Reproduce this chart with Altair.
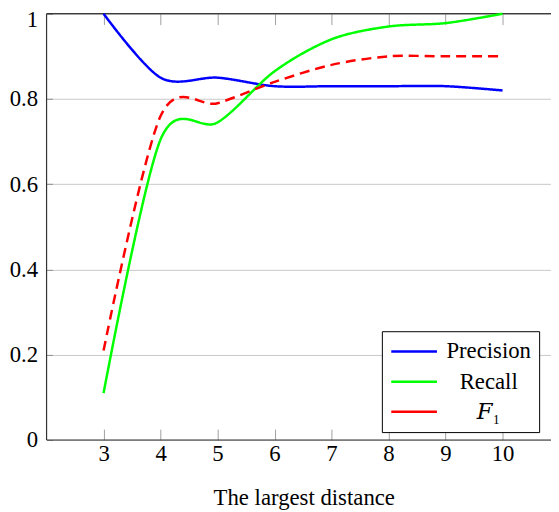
import altair as alt
import pandas as pd

# ---- data ----
distance = [3, 4, 5, 6, 7, 8, 9, 10]
precision = [1.0, 0.85, 0.85, 0.83, 0.83, 0.83, 0.83, 0.82]
recall = [0.11, 0.705, 0.745, 0.865, 0.94, 0.97, 0.978, 1.0]
f1 = [0.21, 0.76, 0.79, 0.84, 0.88, 0.90, 0.90, 0.90]

series_names = ["Precision", "Recall", "𝐹₁"]
series_colors = ["#0000ff", "#00ff00", "#ff0000"]
series_dash = [[1, 0], [1, 0], [10, 6]]

x_ticks = [3, 4, 5, 6, 7, 8, 9, 10]
y_ticks = [0, 0.2, 0.4, 0.6, 0.8, 1]
x_domain = [2, 10.85]
y_domain = [0, 1]

rows = []
for name, vals in zip(series_names, [precision, recall, f1]):
    for d, v in zip(distance, vals):
        rows.append({"distance": d, "value": v, "series": name})
df = pd.DataFrame(rows)

FONT = "Liberation Serif, DejaVu Serif, serif"
FS = 23

xscale = alt.Scale(domain=x_domain, nice=False, zero=False)
yscale = alt.Scale(domain=y_domain, nice=False)

lines = alt.Chart(df).mark_line(
    interpolate="cardinal", tension=0.1, strokeWidth=2.5
).encode(
    x=alt.X("distance:Q", scale=xscale,
            axis=alt.Axis(values=x_ticks, title="The largest distance", orient="bottom",
                          offset=-11, tickSize=11, tickColor="#a0a0a0", tickWidth=1,
                          domain=False, grid=False, labelPadding=3,
                          labelFont=FONT, labelFontSize=FS, labelColor="#000",
                          titleFont=FONT, titleFontSize=FS, titleFontWeight="normal",
                          titleColor="#000", titlePadding=21, titleX=260)),
    y=alt.Y("value:Q", scale=yscale,
            axis=alt.Axis(values=y_ticks, title=None, orient="left", format="~g",
                          offset=-6, tickSize=6, tickColor="#909090", tickWidth=1,
                          domain=False, grid=True, gridColor="#c8c8c8", gridWidth=1,
                          labelPadding=9, labelFont=FONT, labelFontSize=FS,
                          labelColor="#000",
                          labelOffset=alt.condition("datum.value == 1", alt.value(6), alt.value(0)))),
    color=alt.Color("series:N",
                    scale=alt.Scale(domain=series_names, range=series_colors),
                    sort=series_names,
                    legend=alt.Legend(title=None, orient="none", legendX=339, legendY=321,
                                      symbolType="M-1,0H3.2", symbolSize=484,
                                      symbolStrokeWidth=2.5, labelFont=FONT,
                                      labelFontSize=FS, labelColor="#000",
                                      labelAlign="center", labelOffset=75,
                                      rowPadding=5.5, padding=8, strokeColor="#000",
                                      fillColor="#fff", labelLimit=0)),
    strokeDash=alt.StrokeDash("series:N",
                              scale=alt.Scale(domain=series_names, range=series_dash),
                              sort=series_names, legend=None),
)

hframe = pd.DataFrame({"v": [0, 1], "c": ["#333333", "#000000"]})
hrules = alt.Chart(hframe).mark_rule(strokeWidth=1.2).encode(
    y=alt.Y("v:Q", scale=yscale),
    color=alt.Color("c:N", scale=None),
)

vframe = pd.DataFrame({"x": [x_domain[0]]})
vrule = alt.Chart(vframe).mark_rule(strokeWidth=1.2, color="#333333").encode(
    x=alt.X("x:Q", scale=xscale,
            axis=alt.Axis(values=x_ticks, title=None, orient="top", offset=-11,
                          tickSize=11, tickColor="#a0a0a0", tickWidth=1,
                          labels=False, domain=False, grid=False)),
)

chart = alt.layer(hrules, vrule, lines).resolve_scale(
    x="independent", color="independent"
).properties(
    width=510, height=431,
    autosize=alt.AutoSizeParams(type="none"),
    padding={"left": 39, "top": 3, "right": 0, "bottom": 70},
).configure_view(stroke=None)

chart.save("out.html", embed_options={"renderer": "svg", "actions": False})
